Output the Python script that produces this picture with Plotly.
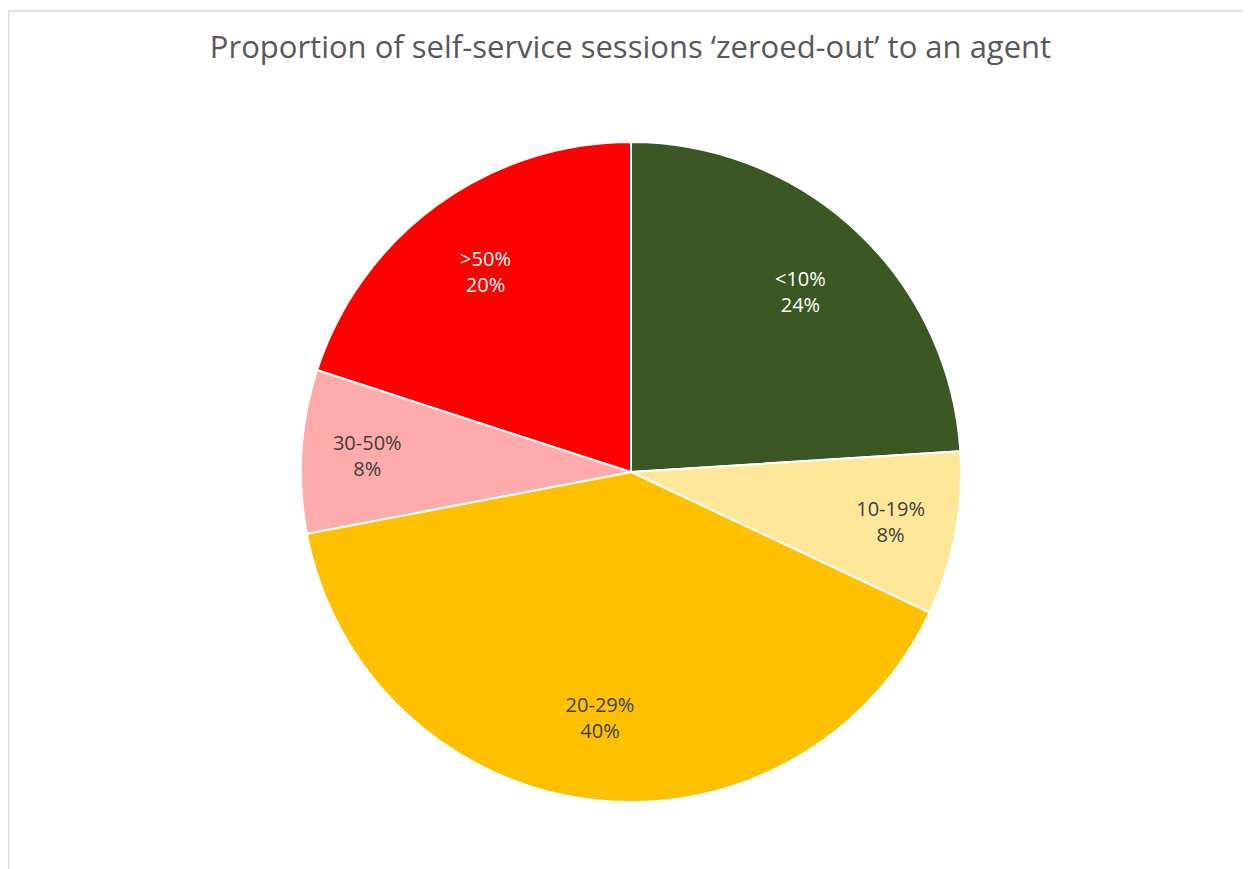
import plotly.graph_objects as go

labels = ["<10%", "10-19%", "20-29%", "30-50%", ">50%"]
values = [24, 8, 40, 8, 20]
colors = ["#3A5724", "#FFE699", "#FFC000", "#FFABAB", "#FF0000"]
text_colors = ["#FFFFFF", "#404040", "#404040", "#404040", "#FFFFFF"]

W, H = 1250, 869
off = 8  # page body margin
cx, cy, r = 631 - off, 472 - off, 330

dom = dict(x=[(cx - r) / W, (cx + r) / W],
           y=[(H - cy - r) / H, (H - cy + r) / H])

fig = go.Figure()
# slices
fig.add_trace(go.Pie(
    labels=labels, values=values, sort=False, direction="clockwise", rotation=0,
    marker=dict(colors=colors, line=dict(color="white", width=2)),
    textinfo="none", hoverinfo="skip", showlegend=False, domain=dom,
))
# labels, placed out in a transparent ring like Excel does
fig.add_trace(go.Pie(
    labels=labels, values=values, sort=False, direction="clockwise", rotation=0,
    hole=0.5,
    marker=dict(colors=["rgba(0,0,0,0)"] * len(values), line=dict(width=0)),
    texttemplate="%{label}<br>%{percent:.0%}",
    textposition="inside", insidetextorientation="horizontal",
    textfont=dict(family="Open Sans", size=20, color=text_colors),
    hoverinfo="skip", showlegend=False, domain=dom,
))

fig.update_layout(
    width=W, height=H,
    margin=dict(l=0, r=0, t=0, b=0),
    paper_bgcolor="white",
    title=dict(text="Proportion of self-service sessions \u2018zeroed-out\u2019 to an agent",
               x=(630.5 - off) / W, xanchor="center", y=1 - (47 - off) / H, yanchor="middle",
               font=dict(family="Open Sans", size=31, color="#595959")),
    shapes=[
        dict(type="line", xref="paper", yref="paper", x0=0, x1=1,
             y0=1 - (11 - off) / H, y1=1 - (11 - off) / H,
             line=dict(color="#D9D9D9", width=1.5)),
        dict(type="line", xref="paper", yref="paper", x0=0.5 / W, x1=0.5 / W,
             y0=0, y1=1 - (11 - off) / H,
             line=dict(color="#D9D9D9", width=1.5)),
    ],
)

fig.write_html("out.html")
